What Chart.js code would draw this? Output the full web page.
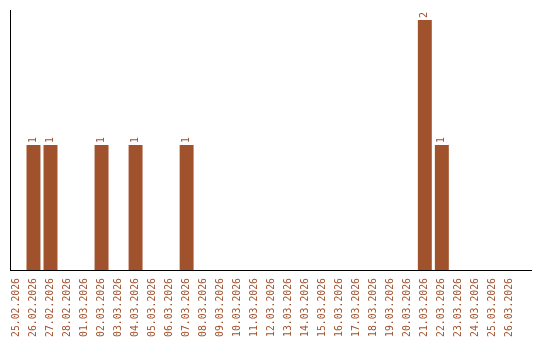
<!DOCTYPE html>
<html>
<head>
<meta charset="utf-8">
<script src="https://cdn.jsdelivr.net/npm/chart.js@4"></script>
<style>
  html, body { margin: 0; padding: 0; background: #fff; }
  #wrap { width: 540px; height: 340px; }
</style>
</head>
<body>
<div id="wrap"><canvas id="chart"></canvas></div>
<script>
// dates on the x axis
const dates = [
    '25.02.2026', '26.02.2026', '27.02.2026', '28.02.2026',
    '01.03.2026', '02.03.2026', '03.03.2026', '04.03.2026', '05.03.2026',
    '06.03.2026', '07.03.2026', '08.03.2026', '09.03.2026', '10.03.2026',
    '11.03.2026', '12.03.2026', '13.03.2026', '14.03.2026', '15.03.2026',
    '16.03.2026', '17.03.2026', '18.03.2026', '19.03.2026', '20.03.2026',
    '21.03.2026', '22.03.2026', '23.03.2026', '24.03.2026', '25.03.2026',
    '26.03.2026'
];
// count per day
const counts = [
    0, 1, 1, 0,
    0, 1, 0, 1, 0,
    0, 1, 0, 0, 0,
    0, 0, 0, 0, 0,
    0, 0, 0, 0, 0,
    2, 1, 0, 0, 0,
    0
];

const brown = '#a0522d';
const mono = 'DejaVu Sans Mono';

// small rotated number above each bar
const valueLabels = {
    id: 'valueLabels',
    afterDatasetsDraw(chart) {
        const ctx = chart.ctx;
        const meta = chart.getDatasetMeta(0);
        ctx.save();
        ctx.fillStyle = brown;
        ctx.font = '10px "' + mono + '"';
        ctx.textAlign = 'left';
        ctx.textBaseline = 'middle';
        meta.data.forEach((bar, i) => {
            if (!counts[i]) return;
            ctx.save();
            ctx.translate(bar.x, bar.y - 2);
            ctx.rotate(-Math.PI / 2);
            ctx.fillText(String(counts[i]), 0, 0);
            ctx.restore();
        });
        ctx.restore();
    }
};

const ctx = document.getElementById('chart').getContext('2d');
new Chart(ctx, {
    type: 'bar',
    data: {
        datasets: [{
            data: counts.map((v, i) => ({ x: i, y: v })),
            backgroundColor: brown,
            borderWidth: 0,
            categoryPercentage: 1,
            barPercentage: 0.82
        }]
    },
    options: {
        responsive: true,
        maintainAspectRatio: false,
        animation: false,
        layout: { padding: { left: 10, top: 10, right: 9, bottom: 0 } },
        plugins: {
            legend: { display: false },
            tooltip: { enabled: false }
        },
        scales: {
            x: {
                type: 'linear',
                offset: false,
                min: -0.38,
                max: 30.24,
                grid: { display: false, drawTicks: false, offset: false },
                border: { display: true, color: '#000', width: 1 },
                afterFit: (scale) => { scale.height = 70; scale.paddingLeft = 0; scale.paddingRight = 0; },
                ticks: {
                    stepSize: 1,
                    includeBounds: false,
                    autoSkip: false,
                    minRotation: 90,
                    maxRotation: 90,
                    padding: 8,
                    color: brown,
                    font: { family: mono, size: 9.8 },
                    callback: (v) => dates[v] || ''
                }
            },
            y: {
                min: 0,
                max: 2.08,
                grid: { display: false, drawTicks: false },
                border: { display: true, color: '#000', width: 1 },
                afterFit: (scale) => { scale.width = 0; },
                ticks: { display: false }
            }
        }
    },
    plugins: [valueLabels]
});
</script>
</body>
</html>
